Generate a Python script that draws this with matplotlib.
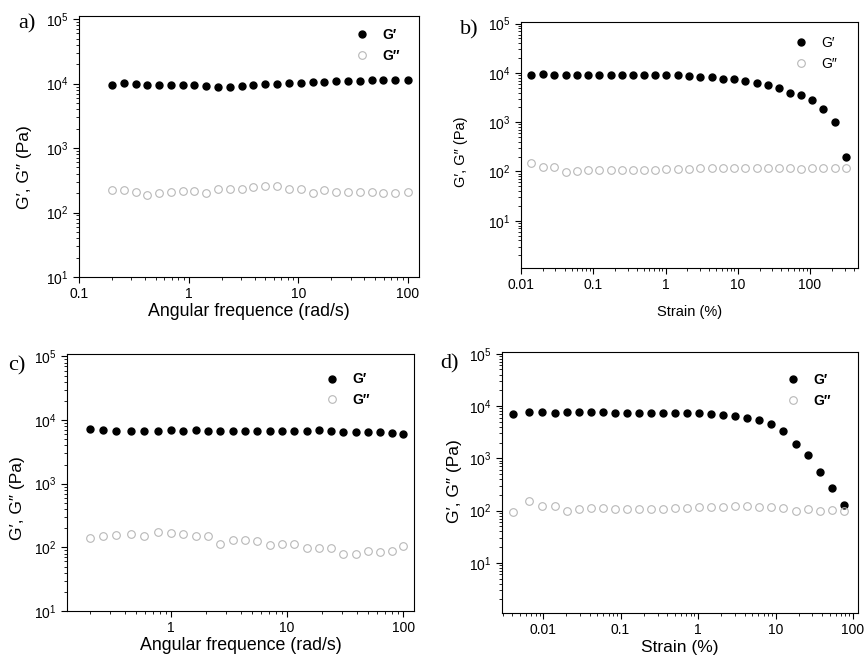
import matplotlib
matplotlib.use('Agg')
import matplotlib.pyplot as plt
from matplotlib.ticker import LogLocator, NullFormatter

plt.rcParams['font.family'] = ['Liberation Sans', 'DejaVu Sans']
plt.rcParams['mathtext.default'] = 'regular'

# a) frequency sweep
freq_a = [0.2, 0.256, 0.328, 0.42, 0.538, 0.689, 0.883, 1.13, 1.45, 1.86, 2.38, 3.05, 3.9,
          5.0, 6.4, 8.2, 10.5, 13.5, 17.3, 22.1, 28.3, 36.3, 46.5, 59.5, 76.2, 100]
gp_a = [9650, 10240, 9760, 9420, 9530, 9650, 9420, 9420, 9090, 8770, 8980, 9310, 9530,
        9760, 10000, 10100, 10360, 10600, 10600, 10870, 11000, 11100, 11300, 11400, 11400, 11500]
gpp_a = [225, 225, 212, 190, 204, 209, 217, 217, 200, 228, 236, 236, 245,
         254, 257, 236, 236, 204, 220, 209, 212, 209, 209, 204, 204, 209]

# b) strain sweep
strain_b = [0.0136, 0.02, 0.0289, 0.0415, 0.0596, 0.0854, 0.121, 0.174, 0.25, 0.355, 0.505,
            0.72, 1.02, 1.47, 2.1, 3.0, 4.33, 6.2, 8.9, 12.5, 18.2, 25.9, 36.9, 52.6, 75.5,
            108, 152, 219, 314]
gp_b = [9250, 9400, 9110, 9250, 9110, 9110, 9250, 8970, 9110, 9110, 8970, 9110, 8970, 8970,
        8690, 8420, 8160, 7670, 7430, 6880, 6260, 5790, 5030, 3920, 3510, 2780, 1880, 1025, 199]
gpp_b = [148, 122, 122, 97, 103, 108, 108, 106, 106, 108, 108, 108, 110, 112, 113, 115, 117,
         117, 117, 117, 115, 119, 117, 117, 113, 119, 119, 119, 119]

# c) frequency sweep
freq_c = [0.2, 0.259, 0.338, 0.449, 0.589, 0.773, 1.0, 1.28, 1.64, 2.08, 2.66, 3.4, 4.32,
          5.55, 7.08, 9.0, 11.5, 14.7, 18.7, 23.7, 30.5, 38.9, 49.5, 63.1, 80.3, 100]
gp_c = [7220, 6880, 6790, 6790, 6710, 6790, 6880, 6710, 6880, 6630, 6630, 6710, 6790,
        6630, 6630, 6710, 6710, 6710, 6880, 6630, 6550, 6550, 6470, 6400, 6240, 6100]
gpp_c = [140, 151, 154, 164, 149, 174, 166, 160, 149, 149, 111, 129, 129,
         127, 109, 111, 111, 96, 96, 96, 80, 80, 88, 83, 88, 104]

# d) strain sweep
strain_d = [0.00406, 0.00659, 0.0098, 0.0143, 0.0202, 0.0292, 0.0417, 0.059, 0.0851, 0.122,
            0.173, 0.247, 0.353, 0.5, 0.72, 1.02, 1.47, 2.09, 3.0, 4.26, 6.2, 8.8, 12.6,
            18.2, 26, 37.2, 53.5, 75.6]
gp_d = [7140, 7570, 7680, 7460, 7570, 7570, 7570, 7680, 7460, 7460, 7460, 7460, 7460, 7460,
        7360, 7250, 7040, 6640, 6360, 5820, 5330, 4610, 3390, 1920, 1150, 537, 271, 128]
gpp_d = [92, 150, 124, 124, 100, 108, 112, 112, 109, 109, 109, 109, 109, 112, 112, 116, 117,
         119, 121, 121, 119, 119, 112, 99, 109, 99, 101, 100]

W, H = 867, 656
fig = plt.figure(figsize=(W / 100, H / 100), dpi=100)


def add_ax(x0, y0, x1, y1):
    return fig.add_axes([x0 / W, 1 - y1 / H, (x1 - x0) / W, (y1 - y0) / H])


panels = [
    dict(box=(79, 16, 419, 277), x=freq_a, gp=gp_a, gpp=gpp_a, xlim=(0.1, 126), ylim=(10, 1.12e5),
         xlabel='Angular frequence (rad/s)', label='a)', lab_xy=(18, 28), bold=True,
         leg=(0.96, 0.975), xfs=12.8, xpad=1, yfs=12.5, ylc=(-0.138, 0.421)),
    dict(box=(521, 22, 858, 268), x=strain_b, gp=gp_b, gpp=gpp_b, xlim=(0.01, 461), ylim=(1.1, 1.08e5),
         xlabel='Strain (%)', label='b)', lab_xy=(460, 34), bold=False,
         leg=(0.955, 0.965), xfs=10.5, xpad=9, yfs=10.5, ylc=(-0.157, 0.472)),
    dict(box=(67, 354, 414, 611), x=freq_c, gp=gp_c, gpp=gpp_c, xlim=(0.127, 124), ylim=(10, 1.09e5),
         xlabel='Angular frequence (rad/s)', label='c)', lab_xy=(8, 370), bold=True,
         leg=(0.89, 0.95), xfs=12.8, xpad=1, yfs=12.5, ylc=(-0.121, 0.44)),
    dict(box=(502, 352, 858, 613), x=strain_d, gp=gp_d, gpp=gpp_d, xlim=(0.00295, 116), ylim=(1.1, 1.08e5),
         xlabel='Strain (%)', label='d)', lab_xy=(440, 368), bold=True,
         leg=(0.94, 0.94), xfs=12.5, xpad=2, yfs=12.5, ylc=(-0.112, 0.506)),
]

for p in panels:
    ax = add_ax(*p['box'])
    ax.plot(p['x'], p['gp'], 'o', color='black', markersize=5, label="G\u2032")
    ax.plot(p['x'], p['gpp'], 'o', markerfacecolor='none', markeredgecolor='#b8b8b8',
            markeredgewidth=0.8, markersize=5.5, label="G\u2033")
    ax.set_xscale('log')
    ax.set_yscale('log')
    ax.set_xlim(p['xlim'])
    ax.set_ylim(p['ylim'])
    ax.set_yticks([10, 100, 1e3, 1e4, 1e5])
    ax.yaxis.set_minor_locator(LogLocator(base=10, subs=range(2, 10), numticks=20))
    ax.yaxis.set_minor_formatter(NullFormatter())
    ax.xaxis.set_minor_locator(LogLocator(base=10, subs=range(2, 10), numticks=20))
    ax.xaxis.set_minor_formatter(NullFormatter())
    ax.xaxis.set_major_formatter(plt.FuncFormatter(lambda v, pos: f'{v:g}'))
    ax.tick_params(which='both', direction='out', top=False, right=False, labelsize=10)
    ax.tick_params(which='major', length=4, width=0.8)
    ax.tick_params(which='minor', length=2, width=0.6)
    for s in ax.spines.values():
        s.set_linewidth(0.8)
    ax.set_xlabel(p['xlabel'], fontsize=p['xfs'], labelpad=p['xpad'])
    ax.set_ylabel("G\u2032, G\u2033 (Pa)", fontsize=p['yfs'])
    ax.yaxis.set_label_coords(*p['ylc'])
    ax.legend(loc='upper right', bbox_to_anchor=p['leg'], frameon=False, handlelength=1,
              handletextpad=1.0, borderaxespad=0, labelspacing=0.5,
              prop={'weight': 'bold' if p['bold'] else 'normal', 'size': 10})
    fig.text(p['lab_xy'][0] / W, 1 - p['lab_xy'][1] / H, p['label'],
             family='Liberation Serif', fontsize=16)

fig.savefig('out.png', dpi=100)
